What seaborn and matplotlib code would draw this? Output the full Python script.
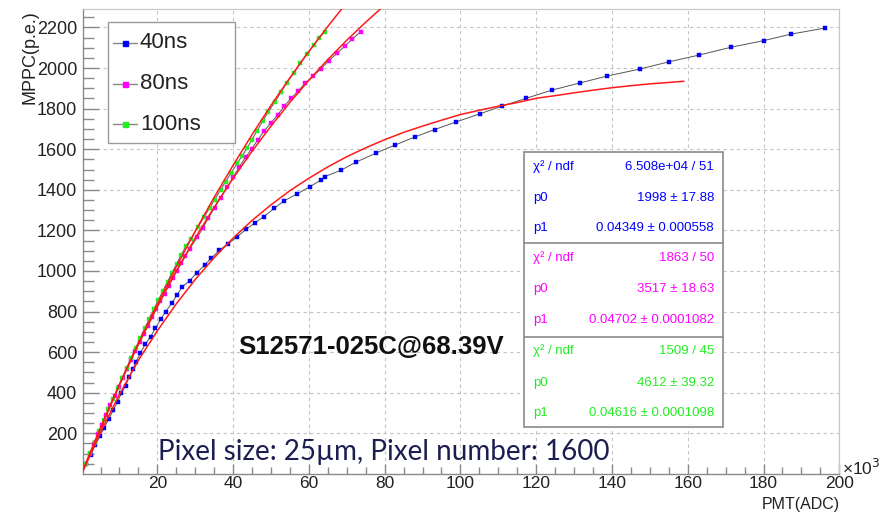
import matplotlib
matplotlib.use("Agg")
import matplotlib.pyplot as plt
import seaborn as sns
import pandas as pd
from matplotlib.patches import Rectangle
from matplotlib.lines import Line2D

# ---------------- data (x in units of 10^3 ADC) ----------------
x_40 = [1.2, 2.4, 3.6, 4.8, 6.0, 7.2, 8.4, 9.5, 10.5, 11.6,
        12.5, 13.5, 14.4, 15.5, 16.8, 18.2, 19.5, 20.9, 22.2, 23.9,
        25.2, 26.5, 28.5, 30.5, 32.5, 34.2, 36.4, 38.6, 41.1, 43.4,
        45.8, 48.1, 50.9, 53.5, 56.8, 60.2, 63.2, 64.2, 68.5, 72.4,
        77.6, 82.8, 87.9, 93.2, 98.8, 105.2, 110.9, 117.2, 124.1, 131.6,
        138.6, 147.3, 155.1, 163.0, 171.3, 180.0, 187.2, 196.2]
y_40 = [50, 95, 140, 185, 228, 272, 315, 356, 397, 434,
        476, 516, 553, 594, 639, 676, 718, 763, 800, 844,
        882, 920, 952, 992, 1030, 1062, 1103, 1133, 1169, 1205,
        1238, 1268, 1309, 1346, 1379, 1415, 1448, 1465, 1497, 1536,
        1580, 1621, 1660, 1697, 1734, 1775, 1812, 1850, 1891, 1927,
        1960, 1995, 2031, 2064, 2102, 2135, 2167, 2197]

x_80 = [1.0, 2.1, 3.2, 4.3, 5.4, 6.5, 7.6, 8.7, 9.8, 10.9,
        12.0, 13.1, 14.2, 15.3, 16.4, 17.5, 18.6, 19.7, 20.8, 21.9,
        23.0, 24.1, 25.2, 26.3, 27.4, 28.5, 30.5, 32.0, 33.5, 35.1,
        36.7, 38.4, 40.0, 41.6, 43.3, 44.9, 46.5, 48.2, 50.0, 51.8,
        53.5, 55.3, 57.2, 59.0, 61.2, 63.2, 65.2, 67.4, 69.5, 71.5, 73.7]
y_80 = [47, 97, 146, 195, 243, 291, 338, 384, 430, 475,
        519, 563, 606, 648, 690, 731, 771, 811, 850, 889,
        927, 964, 1001, 1037, 1073, 1108, 1165, 1210, 1262, 1312,
        1362, 1412, 1462, 1512, 1560, 1602, 1645, 1690, 1730, 1770,
        1812, 1850, 1888, 1925, 1962, 1997, 2035, 2073, 2108, 2144, 2179]

x_100 = [1.05, 2.3, 3.5, 4.7, 5.9, 7.1, 8.3, 9.5, 10.7, 11.9,
         13.1, 14.3, 15.5, 16.7, 17.9, 19.1, 20.3, 21.5, 22.7, 23.9,
         25.1, 26.3, 27.5, 28.9, 30.7, 32.3, 33.8, 35.1, 36.7, 38.0,
         39.5, 41.1, 42.4, 43.7, 44.9, 46.3, 47.8, 49.3, 51.1, 52.6,
         54.2, 56.1, 57.7, 59.5, 61.4, 62.7, 64.2]
y_100 = [47, 104, 158, 212, 265, 318, 370, 422, 473, 523,
         573, 622, 670, 718, 765, 812, 858, 903, 948, 992,
         1036, 1079, 1121, 1160, 1215, 1265, 1310, 1352, 1400, 1440,
         1484, 1530, 1568, 1605, 1645, 1690, 1738, 1785, 1835, 1880,
         1928, 1978, 2025, 2070, 2115, 2150, 2180]

# fit curves
fx_40 = [0, 5, 10, 15, 20, 25, 30, 35, 40, 45, 50, 55, 60, 65, 70, 75, 80,
         85, 90, 95, 100, 105, 110, 115, 120, 125, 130, 135, 140, 145, 150, 155, 159]
fy_40 = [0, 205, 391, 560, 705, 838, 958, 1066, 1162, 1249, 1326, 1396, 1457,
         1513, 1563, 1607, 1647, 1683, 1714, 1743, 1771, 1792, 1812, 1830, 1851,
         1864, 1878, 1891, 1903, 1913, 1922, 1929, 1935]
fx_80 = [0, 5, 10, 15, 20, 25, 30, 35, 40, 45, 50, 55, 60, 65, 70, 75, 80]
fy_80 = [0, 228, 440, 639, 825, 999, 1162, 1314, 1457, 1590, 1714, 1831,
         1940, 2042, 2137, 2226, 2310]
fx_100 = [0, 5, 10, 15, 20, 25, 30, 35, 40, 45, 50, 55, 60, 65, 70]
fy_100 = [0, 225, 439, 643, 837, 1021, 1196, 1363, 1521, 1672, 1816, 1952,
          2082, 2205, 2323]

labels = ["40ns", "80ns", "100ns"]
colors = ["#0000ff", "#ff00ff", "#22ee22"]

stats_rows = [
    [("\u03c7\u00b2 / ndf", "6.508e+04 / 51"), ("p0", "1998 \u00b1 17.88"), ("p1", "0.04349 \u00b1 0.000558")],
    [("\u03c7\u00b2 / ndf", "1863 / 50"), ("p0", "3517 \u00b1 18.63"), ("p1", "0.04702 \u00b1 0.0001082")],
    [("\u03c7\u00b2 / ndf", "1509 / 45"), ("p0", "4612 \u00b1 39.32"), ("p1", "0.04616 \u00b1 0.0001098")],
]

y_ticks = [200, 400, 600, 800, 1000, 1200, 1400, 1600, 1800, 2000, 2200]
x_ticks = [20, 40, 60, 80, 100, 120, 140, 160, 180, 200]

# ---------------- plot ----------------
sns.set_theme(style="white")
plt.rcParams["font.family"] = ["Liberation Sans", "DejaVu Sans"]

W, H = 892, 513
fig = plt.figure(figsize=(W / 100, H / 100), dpi=100)
ax = fig.add_axes([82.7 / W, 1 - 473.5 / H, (839.3 - 82.7) / W, (473.5 - 9) / H])

ax.set_xlim(0.3, 200)
ax.set_ylim(2, 2291)

series = [(x_40, y_40, fx_40, fy_40), (x_80, y_80, fx_80, fy_80), (x_100, y_100, fx_100, fy_100)]
for (xs, ys, fxs, fys), c in zip(series, colors):
    df = pd.DataFrame({"x": xs, "y": ys})
    sns.lineplot(data=df, x="x", y="y", ax=ax, estimator=None, sort=False,
                 color="#555555", lw=0.7, marker="s", markersize=3.4,
                 markerfacecolor=c, markeredgecolor=c, markeredgewidth=0.3, zorder=3)
for (xs, ys, fxs, fys), c in zip(series, colors):
    dff = pd.DataFrame({"x": fxs, "y": fys})
    sns.lineplot(data=dff, x="x", y="y", ax=ax, estimator=None, sort=False,
                 color="#ff1a1a", lw=1.1, zorder=4)

ax.set_xlabel("")
ax.set_ylabel("")
ax.set_xticks(x_ticks)
ax.set_xticklabels([str(t) for t in x_ticks])
ax.set_yticks(y_ticks)
ax.set_yticklabels([str(t) for t in y_ticks])
ax.set_xticks([t for t in range(5, 200, 5) if t % 20 != 0], minor=True)
ax.set_yticks([t for t in range(50, 2291, 50) if t % 200 != 0], minor=True)

ax.grid(True, which="major", color="#c4c4c4", linestyle=(0, (3, 3)), lw=0.8)
ax.tick_params(axis="y", which="major", direction="in", length=11.5, width=1.0,
               color="#8a8a8a", labelsize=13, pad=4, labelcolor="#222222")
ax.tick_params(axis="y", which="minor", direction="in", length=8, width=1.0, color="#8a8a8a")
ax.tick_params(axis="x", which="major", direction="in", length=7, width=1.0,
               color="#8a8a8a", labelsize=12.5, pad=1.5, labelcolor="#222222")
ax.tick_params(axis="x", which="minor", direction="in", length=5, width=1.0, color="#8a8a8a")
ax.tick_params(which="both", left=True, bottom=True, top=False, right=False)
for s in ["left", "bottom"]:
    ax.spines[s].set_color("#8a8a8a")
    ax.spines[s].set_linewidth(1.0)
for s in ["top", "right"]:
    ax.spines[s].set_color("#c8c8c8")
    ax.spines[s].set_linewidth(0.9)

# axis titles
fig.text(30 / W, 1 - 10 / H, "MPPC(p.e.)", rotation=90, ha="center", va="top",
         fontsize=13, color="#222222")
fig.text(840 / W, 1 - 509.5 / H, "PMT(ADC)", ha="right", va="baseline",
         fontsize=11.5, color="#222222")
fig.text(842 / W, 1 - 468 / H, "\u00d710$^{3}$", ha="left", va="center",
         fontsize=12.5, color="#222222")

# legend (drawn as in the original ROOT legend box)
fig.add_artist(Rectangle((108 / W, 1 - 143 / H), 127 / W, 121 / H,
                         transform=fig.transFigure, facecolor="white",
                         edgecolor="#9a9a9a", lw=1.0, zorder=5))
for i, (lab, c) in enumerate(zip(labels, colors)):
    yy = 1 - (43 + 40.5 * i) / H
    fig.add_artist(Line2D([113 / W, 137 / W], [yy, yy], transform=fig.transFigure,
                          color="#888888", lw=1.0, marker=None, zorder=6))
    fig.add_artist(Line2D([125 / W], [yy], transform=fig.transFigure, color=c,
                          marker="s", markersize=3.6, markerfacecolor=c,
                          markeredgecolor=c, lw=0, zorder=7))
    fig.text(140 / W, yy, lab, ha="left", va="center", fontsize=16,
             color="#222222", zorder=8)

# stats box
fig.add_artist(Rectangle((524 / W, 1 - 427 / H), 199 / W, 275 / H,
                         transform=fig.transFigure, facecolor="white",
                         edgecolor="#8a8a8a", lw=1.2, zorder=5))
for yd in (243, 337):
    fig.add_artist(Line2D([524 / W, 723 / W], [1 - yd / H, 1 - yd / H],
                          transform=fig.transFigure, color="#8a8a8a", lw=1.2, zorder=6))
row_y = [[167, 198, 228], [258, 289, 320], [351, 383, 413]]
for rows, ys_, c in zip(stats_rows, row_y, colors):
    for (lab, val), yy in zip(rows, ys_):
        fig.text(533 / W, 1 - yy / H, lab, ha="left", va="center", fontsize=9.5,
                 color=c, zorder=8)
        fig.text(714 / W, 1 - yy / H, val, ha="right", va="center", fontsize=9.5,
                 color=c, zorder=8)

# annotations
fig.text(371 / W, 1 - 347 / H, "S12571-025C@68.39V", ha="center", va="center",
         fontsize=18.5, fontweight="bold", color="#111111")
fig.text(158 / W, 1 - 460 / H, "Pixel size: 25\u00b5m, Pixel number: 1600",
         ha="left", va="baseline", fontsize=20, color="#1c1d50",
         family=["Lato", "DejaVu Sans"])

fig.savefig("out.png", dpi=100)
